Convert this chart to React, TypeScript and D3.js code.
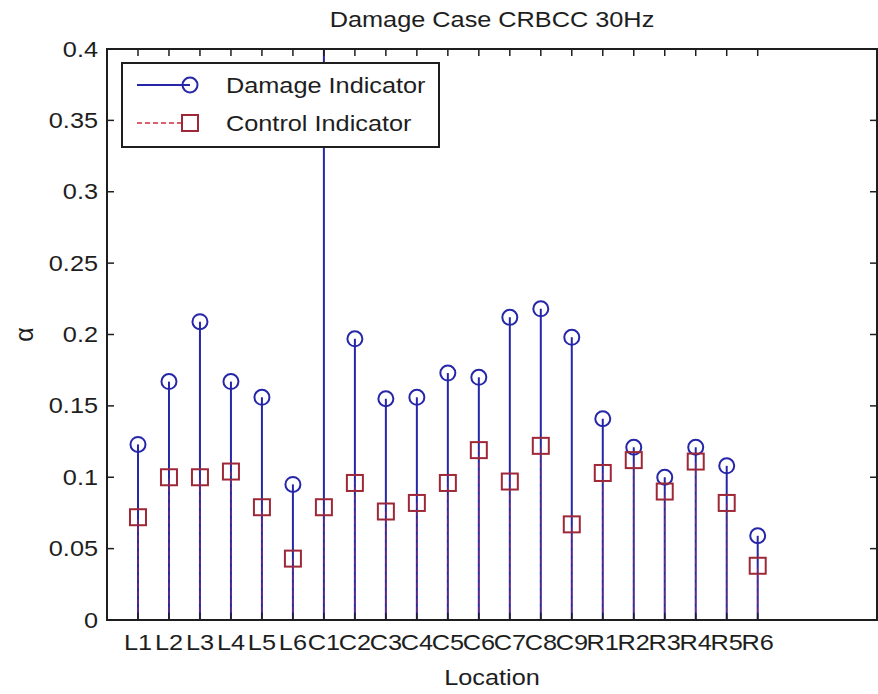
import * as d3 from 'd3';

const locations = ['L1', 'L2', 'L3', 'L4', 'L5', 'L6', 'C1', 'C2', 'C3', 'C4', 'C5', 'C6', 'C7', 'C8', 'C9', 'R1', 'R2', 'R3', 'R4', 'R5', 'R6'];
// C1's damage value runs off the top of the axes (ylim fixed to 0.4)
const damageIndicator = [0.123, 0.167, 0.209, 0.167, 0.156, 0.095, 0.45, 0.197, 0.155, 0.156, 0.173, 0.17, 0.212, 0.218, 0.198, 0.141, 0.121, 0.1, 0.121, 0.108, 0.059];
const controlIndicator = [0.072, 0.1, 0.1, 0.104, 0.079, 0.043, 0.079, 0.096, 0.076, 0.082, 0.096, 0.119, 0.097, 0.122, 0.067, 0.103, 0.112, 0.09, 0.111, 0.082, 0.038];
const yTicks = [0, 0.05, 0.1, 0.15, 0.2, 0.25, 0.3, 0.35, 0.4];
const seriesNames = ['Damage Indicator', 'Control Indicator'];

const W = 878;
const H = 694;
const box = { left: 107, right: 877, top: 49, bottom: 620 };
const X_MAX = 24.85;
const FONT = '"Liberation Sans", Arial, Helvetica, sans-serif';
const FS = 22;
const SX = 1.15; // source image is slightly stretched horizontally
const INK = '#1e1e1e';
const BLUE = '#2626a8';
const RED = '#d02a3a';
const MAROON = '#9e2838';
const TICK = 7;

function Label({ x, y, anchor = 'start', children }: { x: number; y: number; anchor?: 'start' | 'middle' | 'end'; children: string }) {
  return (
    <text transform={`translate(${x},${y}) scale(${SX},1)`} textAnchor={anchor} fontFamily={FONT} fontSize={FS} fill={INK}>
      {children}
    </text>
  );
}

export default function App() {
  const x = d3.scaleLinear().domain([0, X_MAX]).range([box.left, box.right]);
  const y = d3.scaleLinear().domain([0, 0.4]).range([box.bottom, box.top]);
  const idx = locations.map((_, i) => i + 1);
  const fmt = (v: number) => (v === 0 ? '0' : String(+v.toFixed(2)));
  const cx = (box.left + box.right) / 2;
  const cy = (box.top + box.bottom) / 2;

  const leg = { x: 122, y: 63, w: 317, h: 84 };
  const row1 = 85;
  const row2 = 123;

  return (
    <svg width={W} height={H} style={{ position: 'absolute', left: 0, top: 0, background: '#fff' }}>
      <defs>
        <clipPath id="plotClip">
          <rect x={box.left} y={box.top} width={box.right - box.left} height={box.bottom - box.top} />
        </clipPath>
      </defs>

      <Label x={cx} y={27} anchor="middle">Damage Case CRBCC 30Hz</Label>

      <g clipPath="url(#plotClip)">
        {idx.map((i, k) => (
          <line key={`ds-${i}`} x1={x(i)} x2={x(i)} y1={y(0)} y2={y(damageIndicator[k])} stroke={BLUE} strokeWidth={2} />
        ))}
        {idx.map((i, k) => (
          <line key={`cs-${i}`} x1={x(i)} x2={x(i)} y1={y(0)} y2={y(controlIndicator[k])} stroke={RED} strokeWidth={1.4} strokeDasharray="5,3" opacity={0.45} />
        ))}
        {idx.map((i, k) => (
          <circle key={`dm-${i}`} cx={x(i)} cy={y(damageIndicator[k])} r={7.5} fill="none" stroke={BLUE} strokeWidth={2} />
        ))}
        {idx.map((i, k) => (
          <rect key={`cm-${i}`} x={x(i) - 8} y={y(controlIndicator[k]) - 8} width={16} height={16} fill="none" stroke={MAROON} strokeWidth={2} />
        ))}
      </g>

      {/* axes box and ticks */}
      <rect x={box.left} y={box.top} width={box.right - box.left} height={box.bottom - box.top} fill="none" stroke={INK} strokeWidth={2} />
      {yTicks.map((t) => (
        <g key={`yt-${t}`}>
          <line x1={box.left} x2={box.left + TICK} y1={y(t)} y2={y(t)} stroke={INK} strokeWidth={1.5} />
          <line x1={box.right} x2={box.right - TICK} y1={y(t)} y2={y(t)} stroke={INK} strokeWidth={1.5} />
          <Label x={98} y={y(t) + 7.5} anchor="end">{fmt(t)}</Label>
        </g>
      ))}
      {idx.map((i, k) => (
        <g key={`xt-${i}`}>
          <line x1={x(i)} x2={x(i)} y1={box.top} y2={box.top + TICK} stroke={INK} strokeWidth={1.5} />
          <line x1={x(i)} x2={x(i)} y1={box.bottom} y2={box.bottom - TICK} stroke={INK} strokeWidth={1.5} />
          <Label x={x(i)} y={650} anchor="middle">{locations[k]}</Label>
        </g>
      ))}

      <Label x={cx} y={685} anchor="middle">Location</Label>
      <text transform={`translate(33,${cy}) rotate(-90)`} textAnchor="middle" fontFamily={FONT} fontSize={25} fill={INK}>α</text>

      {/* legend */}
      <rect x={leg.x} y={leg.y} width={leg.w} height={leg.h} fill="#fff" stroke={INK} strokeWidth={2} />
      <line x1={137} x2={190} y1={row1} y2={row1} stroke={BLUE} strokeWidth={2} />
      <circle cx={190} cy={row1} r={7.5} fill="none" stroke={BLUE} strokeWidth={2} />
      <Label x={226} y={row1 + 7.5}>{seriesNames[0]}</Label>
      <line x1={137} x2={190} y1={row2} y2={row2} stroke={RED} strokeWidth={1.6} strokeDasharray="5,3" />
      <rect x={182} y={row2 - 8} width={16} height={16} fill="#fff" stroke={MAROON} strokeWidth={2} />
      <Label x={226} y={row2 + 7.5}>{seriesNames[1]}</Label>
    </svg>
  );
}
